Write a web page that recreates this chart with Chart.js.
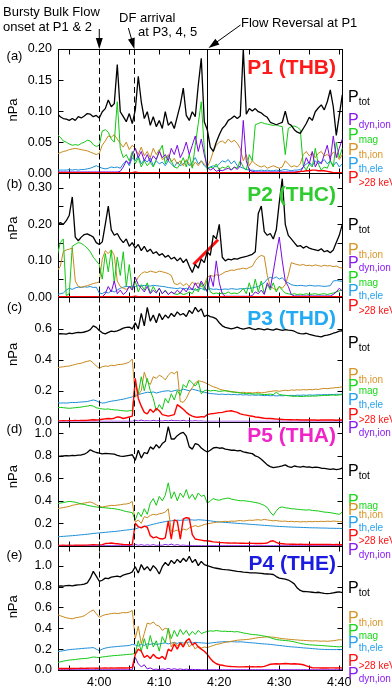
<!DOCTYPE html>
<html>
<head>
<meta charset="utf-8">
<script src="https://cdn.jsdelivr.net/npm/chart.js@4.4.1/dist/chart.umd.min.js"></script>
<style>
  html, body { margin: 0; padding: 0; background: #fff; }
  canvas { display: block; }
</style>
</head>
<body>
<canvas id="chart" width="392" height="692"></canvas>
<script>
// sample times, minutes after 04:00 UT
const t = [
  -7,-6.5,-6,-5.5,-5,-4.5,-4,-3.5,-3,-2.5,-2,-1.5,-1,-0.5,0,0.5,1,1.5,2,2.5,
  3,3.5,4,4.5,5,5.5,6,6.5,7,7.5,8,8.5,9,9.5,10,10.5,11,11.5,12,12.5,
  13,13.5,14,14.5,15,15.5,16,16.5,17,17.5,18,18.5,19,19.5,20,20.5,21,21.5,22,22.5,
  23,23.5,24,24.5,25,25.5,26,26.5,27,27.5,28,28.5,29,29.5,30,30.5,31,31.5,32,32.5,
  33,33.5,34,34.5,35,35.5,36,36.5,37,37.5,38,38.5,39,39.5,40,40.5
];

// (a) P1 (THB)
const ptotA = [
  0.096,0.091,0.088,0.087,0.085,0.088,0.085,0.091,0.089,0.092,
  0.096,0.095,0.091,0.093,0.089,0.099,0.104,0.118,0.107,0.112,
  0.175,0.099,0.091,0.083,0.096,0.080,0.102,0.156,0.115,0.088,
  0.099,0.077,0.091,0.075,0.085,0.072,0.099,0.077,0.083,0.072,
  0.091,0.110,0.137,0.093,0.085,0.099,0.091,0.142,0.185,0.083,
  0.070,0.042,0.035,0.050,0.062,0.072,0.077,0.085,0.088,0.092,
  0.088,0.092,0.200,0.095,0.104,0.100,0.104,0.099,0.097,0.093,
  0.090,0.082,0.080,0.078,0.080,0.082,0.100,0.080,0.077,0.070,
  0.066,0.064,0.072,0.080,0.090,0.085,0.099,0.105,0.110,0.102,
  0.115,0.134,0.107,0.061,0.093,0.126
];
const dynA = [
  0.002,0.002,0.002,0.002,0.002,0.002,0.002,0.002,0.002,0.002,
  0.002,0.002,0.002,0.002,0.002,0.002,0.002,0.002,0.002,0.002,
  0.002,0.003,0.010,0.020,0.015,0.030,0.040,0.025,0.035,0.020,
  0.030,0.018,0.028,0.022,0.035,0.025,0.030,0.020,0.040,0.030,
  0.045,0.025,0.035,0.050,0.030,0.045,0.060,0.035,0.055,0.030,
  0.010,0.005,0.008,0.003,0.005,0.004,0.006,0.008,0.005,0.010,
  0.006,0.012,0.085,0.020,0.005,0.003,0.002,0.002,0.002,0.002,
  0.002,0.002,0.002,0.002,0.002,0.002,0.002,0.002,0.002,0.002,
  0.002,0.002,0.010,0.025,0.015,0.035,0.010,0.020,0.015,0.030,
  0.045,0.020,0.060,0.025,0.040,0.055
];
const magA = [
  0.062,0.058,0.052,0.050,0.047,0.045,0.046,0.045,0.048,0.050,
  0.053,0.052,0.046,0.043,0.045,0.068,0.070,0.066,0.055,0.050,
  0.115,0.040,0.025,0.030,0.020,0.035,0.015,0.025,0.010,0.020,
  0.012,0.018,0.010,0.022,0.035,0.045,0.015,0.028,0.020,0.010,
  0.008,0.015,0.025,0.010,0.030,0.008,0.045,0.080,0.115,0.040,
  0.005,0.010,0.008,0.015,0.005,0.010,0.008,0.012,0.005,0.010,
  0.008,0.020,0.010,0.005,0.030,0.020,0.078,0.080,0.082,0.080,
  0.079,0.078,0.077,0.078,0.076,0.075,0.030,0.072,0.075,0.076,
  0.074,0.070,0.012,0.005,0.015,0.010,0.040,0.015,0.005,0.010,
  0.008,0.020,0.010,0.050,0.025,0.040
];
const thiA = [
  0.031,0.033,0.035,0.036,0.038,0.039,0.040,0.039,0.038,0.037,
  0.036,0.034,0.032,0.030,0.032,0.045,0.052,0.060,0.058,0.062,
  0.055,0.048,0.042,0.050,0.038,0.045,0.040,0.030,0.042,0.028,
  0.035,0.025,0.040,0.030,0.038,0.022,0.025,0.030,0.018,0.024,
  0.015,0.020,0.012,0.022,0.015,0.010,0.018,0.012,0.020,0.015,
  0.010,0.020,0.035,0.045,0.050,0.052,0.048,0.055,0.050,0.053,
  0.048,0.040,0.020,0.030,0.012,0.020,0.015,0.012,0.010,0.012,
  0.008,0.010,0.012,0.010,0.008,0.010,0.020,0.015,0.010,0.012,
  0.010,0.015,0.030,0.035,0.028,0.033,0.025,0.032,0.035,0.028,
  0.030,0.026,0.034,0.030,0.022,0.030
];
const theA = [
  0.005,0.005,0.005,0.005,0.006,0.005,0.006,0.005,0.006,0.006,
  0.007,0.008,0.010,0.012,0.010,0.008,0.007,0.008,0.010,0.009,
  0.010,0.008,0.015,0.020,0.012,0.025,0.020,0.028,0.015,0.022,
  0.018,0.025,0.012,0.020,0.015,0.018,0.012,0.020,0.015,0.010,
  0.018,0.012,0.015,0.020,0.012,0.018,0.025,0.015,0.020,0.012,
  0.008,0.010,0.012,0.010,0.015,0.020,0.018,0.022,0.015,0.020,
  0.012,0.010,0.008,0.006,0.005,0.005,0.004,0.004,0.005,0.004,
  0.005,0.004,0.004,0.005,0.004,0.005,0.006,0.005,0.004,0.005,
  0.005,0.006,0.010,0.015,0.018,0.012,0.020,0.015,0.018,0.022,
  0.015,0.020,0.012,0.018,0.010,0.015
];
const hotA = [
  0.001,0.001,0.001,0.001,0.001,0.001,0.001,0.001,0.001,0.001,
  0.001,0.001,0.001,0.001,0.001,0.001,0.001,0.001,0.001,0.001,
  0.001,0.001,0.001,0.001,0.001,0.001,0.002,0.001,0.001,0.001,
  0.001,0.001,0.001,0.001,0.001,0.001,0.001,0.001,0.001,0.001,
  0.001,0.001,0.001,0.001,0.001,0.001,0.001,0.001,0.001,0.001,
  0.001,0.001,0.001,0.001,0.001,0.001,0.001,0.001,0.001,0.001,
  0.001,0.001,0.001,0.001,0.001,0.001,0.001,0.001,0.001,0.001,
  0.001,0.001,0.001,0.001,0.001,0.001,0.001,0.001,0.001,0.001,
  0.002,0.003,0.003,0.004,0.004,0.005,0.005,0.004,0.004,0.004,
  0.003,0.002,0.001,0.001,0.001,0.001
];

// (b) P2 (THC)
const ptotB = [
  0.195,0.205,0.200,0.210,0.225,0.275,0.165,0.155,0.165,0.172,
  0.174,0.170,0.165,0.150,0.145,0.152,0.200,0.250,0.185,0.170,
  0.175,0.160,0.150,0.160,0.140,0.150,0.135,0.145,0.128,0.140,
  0.125,0.132,0.120,0.125,0.115,0.120,0.110,0.115,0.105,0.110,
  0.100,0.108,0.095,0.105,0.085,0.068,0.090,0.080,0.105,0.095,
  0.125,0.115,0.170,0.160,0.200,0.110,0.100,0.105,0.103,0.106,
  0.105,0.108,0.110,0.112,0.115,0.118,0.125,0.230,0.250,0.180,
  0.170,0.175,0.160,0.185,0.260,0.325,0.200,0.170,0.160,0.150,
  0.140,0.142,0.135,0.140,0.135,0.132,0.130,0.128,0.133,0.125,
  0.128,0.122,0.130,0.150,0.170,0.200
];
const thiB = [
  0.073,0.085,0.125,0.130,0.132,0.135,0.045,0.030,0.028,0.030,
  0.032,0.035,0.038,0.040,0.042,0.105,0.128,0.120,0.130,0.115,
  0.045,0.030,0.025,0.022,0.028,0.025,0.040,0.055,0.065,0.070,
  0.068,0.072,0.070,0.068,0.072,0.070,0.068,0.065,0.060,0.038,
  0.035,0.040,0.032,0.038,0.030,0.042,0.035,0.040,0.030,0.035,
  0.055,0.060,0.058,0.062,0.060,0.065,0.070,0.072,0.075,0.074,
  0.077,0.078,0.080,0.078,0.082,0.085,0.100,0.110,0.115,0.112,
  0.060,0.030,0.025,0.020,0.030,0.025,0.035,0.060,0.095,0.092,
  0.090,0.088,0.090,0.087,0.088,0.086,0.089,0.087,0.085,0.088,
  0.086,0.087,0.084,0.086,0.082,0.080
];
const dynB = [
  0.002,0.002,0.002,0.002,0.002,0.002,0.002,0.002,0.002,0.002,
  0.002,0.002,0.002,0.002,0.002,0.002,0.010,0.030,0.015,0.045,
  0.010,0.020,0.008,0.015,0.030,0.020,0.055,0.035,0.025,0.015,
  0.030,0.010,0.020,0.012,0.025,0.010,0.018,0.008,0.015,0.010,
  0.020,0.012,0.025,0.015,0.030,0.020,0.040,0.025,0.045,0.030,
  0.015,0.060,0.030,0.100,0.040,0.010,0.003,0.003,0.003,0.003,
  0.003,0.003,0.003,0.003,0.003,0.005,0.015,0.010,0.020,0.008,
  0.040,0.025,0.070,0.120,0.165,0.100,0.045,0.030,0.008,0.004,
  0.004,0.004,0.004,0.004,0.004,0.004,0.004,0.004,0.004,0.004,
  0.004,0.004,0.008,0.015,0.025,0.018
];
const magB = [
  0.115,0.150,0.160,0.005,0.010,0.140,0.145,0.150,0.148,0.142,
  0.135,0.125,0.110,0.100,0.090,0.050,0.120,0.070,0.130,0.040,
  0.110,0.060,0.125,0.030,0.090,0.020,0.045,0.015,0.035,0.020,
  0.040,0.012,0.030,0.015,0.025,0.010,0.020,0.008,0.015,0.010,
  0.008,0.012,0.008,0.010,0.015,0.010,0.025,0.015,0.040,0.020,
  0.050,0.015,0.010,0.012,0.010,0.012,0.010,0.015,0.010,0.012,
  0.010,0.015,0.025,0.010,0.040,0.012,0.050,0.015,0.045,0.010,
  0.035,0.020,0.040,0.015,0.030,0.020,0.012,0.010,0.008,0.010,
  0.008,0.009,0.008,0.010,0.008,0.009,0.010,0.008,0.009,0.010,
  0.008,0.010,0.012,0.015,0.018,0.020
];
const theB = [
  0.008,0.010,0.012,0.020,0.025,0.022,0.026,0.028,0.027,0.029,
  0.028,0.030,0.027,0.028,0.012,0.010,0.015,0.012,0.018,0.015,
  0.020,0.025,0.028,0.030,0.029,0.031,0.030,0.032,0.031,0.033,
  0.032,0.031,0.033,0.032,0.031,0.030,0.029,0.027,0.026,0.025,
  0.024,0.026,0.023,0.025,0.022,0.024,0.020,0.022,0.025,0.020,
  0.022,0.024,0.022,0.023,0.021,0.022,0.023,0.022,0.024,0.023,
  0.022,0.024,0.023,0.025,0.024,0.026,0.028,0.030,0.035,0.040,
  0.050,0.055,0.052,0.056,0.050,0.054,0.045,0.040,0.035,0.033,
  0.032,0.033,0.032,0.031,0.033,0.032,0.031,0.032,0.031,0.030,
  0.031,0.032,0.045,0.046,0.045,0.044
];
const hotB = [
  0.002,0.002,0.002,0.002,0.002,0.002,0.002,0.002,0.002,0.002,
  0.002,0.002,0.002,0.002,0.002,0.002,0.002,0.002,0.002,0.002,
  0.002,0.002,0.002,0.002,0.002,0.002,0.003,0.002,0.002,0.002,
  0.002,0.002,0.002,0.002,0.002,0.002,0.002,0.002,0.002,0.002,
  0.002,0.002,0.002,0.002,0.002,0.002,0.002,0.002,0.002,0.002,
  0.002,0.002,0.002,0.002,0.002,0.002,0.002,0.002,0.002,0.002,
  0.002,0.002,0.002,0.002,0.002,0.002,0.002,0.002,0.002,0.002,
  0.002,0.002,0.002,0.002,0.002,0.002,0.002,0.002,0.002,0.002,
  0.002,0.002,0.002,0.002,0.002,0.002,0.002,0.002,0.002,0.002,
  0.002,0.002,0.002,0.002,0.002,0.002
];
// hand-drawn trend segment in (b): start and end
const trendTime = [15.7, 19.8];
const trendB = [0.090, 0.158];

// (c) P3 (THD)
const ptotC = [
  0.565,0.570,0.568,0.566,0.572,0.570,0.575,0.578,0.576,0.580,
  0.585,0.595,0.620,0.610,0.590,0.575,0.568,0.578,0.585,0.582,
  0.588,0.595,0.605,0.610,0.612,0.600,0.640,0.600,0.700,0.620,
  0.740,0.650,0.690,0.640,0.700,0.660,0.690,0.670,0.700,0.680,
  0.710,0.690,0.700,0.680,0.720,0.700,0.740,0.710,0.730,0.680,
  0.690,0.680,0.675,0.665,0.640,0.620,0.610,0.605,0.600,0.605,
  0.612,0.603,0.598,0.603,0.608,0.600,0.596,0.602,0.598,0.594,
  0.600,0.596,0.592,0.600,0.595,0.590,0.596,0.592,0.590,0.585,
  0.575,0.570,0.568,0.572,0.565,0.560,0.555,0.552,0.548,0.556,
  0.560,0.565,0.572,0.578,0.585,0.588
];
const thiC = [
  0.350,0.352,0.355,0.358,0.360,0.365,0.370,0.375,0.378,0.385,
  0.390,0.395,0.380,0.360,0.345,0.355,0.360,0.358,0.365,0.362,
  0.368,0.370,0.372,0.378,0.385,0.405,0.160,0.175,0.200,0.320,
  0.260,0.240,0.290,0.280,0.300,0.290,0.270,0.300,0.320,0.310,
  0.325,0.130,0.125,0.150,0.190,0.220,0.250,0.265,0.260,0.255,
  0.245,0.235,0.225,0.220,0.210,0.205,0.200,0.198,0.195,0.192,
  0.190,0.188,0.190,0.186,0.188,0.185,0.187,0.190,0.186,0.188,
  0.192,0.195,0.198,0.200,0.196,0.200,0.203,0.200,0.205,0.203,
  0.206,0.204,0.207,0.205,0.208,0.206,0.210,0.208,0.212,0.215,
  0.213,0.216,0.218,0.220,0.222,0.225
];
const magC = [
  0.090,0.092,0.090,0.088,0.086,0.088,0.090,0.092,0.094,0.098,
  0.100,0.105,0.100,0.090,0.085,0.082,0.080,0.082,0.078,0.076,
  0.075,0.072,0.070,0.068,0.070,0.072,0.250,0.180,0.290,0.200,
  0.280,0.200,0.150,0.070,0.110,0.080,0.150,0.120,0.180,0.140,
  0.200,0.170,0.240,0.220,0.270,0.250,0.230,0.260,0.180,0.200,
  0.205,0.198,0.202,0.200,0.195,0.198,0.200,0.196,0.192,0.190,
  0.188,0.185,0.183,0.180,0.182,0.180,0.178,0.180,0.177,0.175,
  0.176,0.178,0.175,0.190,0.176,0.172,0.170,0.168,0.165,0.163,
  0.165,0.162,0.163,0.165,0.164,0.166,0.165,0.167,0.168,0.170,
  0.169,0.171,0.172,0.170,0.173,0.175
];
const theC = [
  0.122,0.120,0.121,0.120,0.122,0.124,0.123,0.125,0.127,0.128,
  0.130,0.135,0.140,0.135,0.125,0.120,0.122,0.128,0.132,0.135,
  0.138,0.142,0.145,0.150,0.155,0.160,0.170,0.175,0.180,0.185,
  0.190,0.188,0.192,0.185,0.190,0.195,0.198,0.200,0.195,0.200,
  0.205,0.200,0.210,0.205,0.200,0.210,0.205,0.200,0.195,0.190,
  0.185,0.182,0.180,0.178,0.176,0.178,0.175,0.177,0.174,0.176,
  0.173,0.175,0.172,0.174,0.171,0.173,0.170,0.172,0.170,0.168,
  0.170,0.167,0.169,0.166,0.168,0.167,0.169,0.168,0.170,0.168,
  0.171,0.170,0.172,0.170,0.173,0.171,0.172,0.174,0.173,0.175,
  0.174,0.176,0.175,0.177,0.176,0.178
];
const hotC = [
  0.005,0.005,0.006,0.005,0.006,0.006,0.007,0.006,0.008,0.007,
  0.008,0.010,0.012,0.010,0.012,0.015,0.018,0.020,0.018,0.022,
  0.030,0.028,0.020,0.025,0.030,0.035,0.280,0.150,0.100,0.060,
  0.050,0.080,0.060,0.085,0.070,0.045,0.040,0.035,0.040,0.045,
  0.110,0.095,0.080,0.060,0.045,0.035,0.030,0.028,0.032,0.030,
  0.045,0.050,0.052,0.055,0.058,0.060,0.065,0.068,0.070,0.065,
  0.060,0.050,0.045,0.042,0.038,0.035,0.030,0.028,0.025,0.022,
  0.020,0.020,0.018,0.016,0.015,0.014,0.013,0.012,0.012,0.011,
  0.012,0.010,0.011,0.010,0.010,0.011,0.010,0.009,0.010,0.010,
  0.011,0.010,0.010,0.009,0.010,0.010
];
const dynC = [
  0.002,0.002,0.002,0.002,0.002,0.002,0.002,0.002,0.002,0.002,
  0.002,0.002,0.002,0.002,0.002,0.002,0.002,0.002,0.002,0.002,
  0.002,0.002,0.002,0.002,0.002,0.002,0.008,0.003,0.010,0.004,
  0.006,0.003,0.008,0.004,0.006,0.003,0.007,0.004,0.009,0.005,
  0.006,0.004,0.008,0.003,0.005,0.003,0.006,0.003,0.004,0.002,
  0.002,0.002,0.002,0.002,0.002,0.002,0.002,0.002,0.002,0.002,
  0.002,0.002,0.002,0.002,0.002,0.002,0.002,0.002,0.002,0.002,
  0.002,0.002,0.002,0.002,0.002,0.002,0.002,0.002,0.002,0.002,
  0.002,0.002,0.002,0.002,0.002,0.002,0.002,0.002,0.002,0.002,
  0.002,0.002,0.002,0.002,0.002,0.002
];

// (d) P5 (THA)
const ptotD = [
  0.795,0.798,0.800,0.802,0.800,0.805,0.802,0.806,0.808,0.815,
  0.830,0.855,0.840,0.830,0.825,0.818,0.822,0.820,0.818,0.815,
  0.805,0.798,0.795,0.800,0.805,0.810,0.760,0.850,0.780,0.830,
  0.820,0.880,0.860,0.900,0.870,0.910,0.930,1.060,0.950,0.950,
  0.980,1.000,1.010,0.975,0.880,0.860,0.910,0.900,0.870,0.850,
  0.835,0.850,0.870,0.875,0.868,0.872,0.860,0.855,0.850,0.852,
  0.845,0.848,0.835,0.830,0.825,0.820,0.800,0.790,0.770,0.745,
  0.720,0.705,0.695,0.700,0.705,0.712,0.720,0.705,0.698,0.710,
  0.704,0.700,0.706,0.700,0.702,0.695,0.700,0.698,0.690,0.688,
  0.685,0.680,0.684,0.678,0.682,0.690
];
const magD = [
  0.375,0.380,0.385,0.390,0.395,0.392,0.388,0.380,0.372,0.368,
  0.360,0.355,0.350,0.345,0.342,0.340,0.338,0.335,0.332,0.330,
  0.325,0.320,0.312,0.305,0.300,0.295,0.230,0.300,0.260,0.330,
  0.280,0.380,0.420,0.360,0.440,0.400,0.450,0.560,0.420,0.480,
  0.400,0.470,0.430,0.500,0.420,0.460,0.410,0.470,0.440,0.450,
  0.380,0.400,0.420,0.410,0.405,0.415,0.420,0.425,0.415,0.410,
  0.405,0.400,0.402,0.398,0.395,0.390,0.385,0.380,0.370,0.360,
  0.340,0.300,0.270,0.310,0.340,0.345,0.338,0.335,0.330,0.328,
  0.325,0.322,0.320,0.318,0.320,0.315,0.312,0.310,0.305,0.300,
  0.298,0.295,0.290,0.285,0.280,0.300
];
const thiD = [
  0.330,0.335,0.340,0.345,0.350,0.360,0.365,0.370,0.375,0.380,
  0.385,0.390,0.380,0.365,0.350,0.345,0.350,0.355,0.360,0.358,
  0.362,0.365,0.370,0.372,0.378,0.395,0.210,0.230,0.200,0.260,
  0.250,0.270,0.280,0.275,0.285,0.290,0.300,0.330,0.130,0.130,
  0.140,0.120,0.150,0.140,0.160,0.170,0.180,0.170,0.180,0.190,
  0.195,0.200,0.205,0.210,0.212,0.215,0.218,0.215,0.220,0.218,
  0.222,0.225,0.220,0.224,0.228,0.226,0.230,0.232,0.228,0.235,
  0.230,0.226,0.222,0.225,0.220,0.218,0.220,0.215,0.218,0.214,
  0.216,0.212,0.215,0.213,0.216,0.214,0.217,0.215,0.218,0.216,
  0.219,0.217,0.220,0.218,0.216,0.214
];
const theD = [
  0.080,0.082,0.084,0.086,0.088,0.090,0.092,0.095,0.098,0.100,
  0.103,0.106,0.110,0.112,0.115,0.117,0.120,0.122,0.125,0.127,
  0.130,0.133,0.137,0.140,0.143,0.147,0.150,0.160,0.165,0.172,
  0.178,0.185,0.192,0.198,0.205,0.210,0.215,0.220,0.222,0.225,
  0.228,0.226,0.230,0.228,0.232,0.230,0.228,0.232,0.230,0.228,
  0.225,0.222,0.218,0.215,0.212,0.210,0.208,0.206,0.204,0.202,
  0.200,0.198,0.196,0.194,0.192,0.190,0.188,0.186,0.184,0.182,
  0.180,0.178,0.176,0.174,0.172,0.171,0.170,0.168,0.167,0.166,
  0.165,0.164,0.163,0.162,0.161,0.160,0.160,0.159,0.158,0.158,
  0.157,0.156,0.156,0.155,0.155,0.154
];
const hotD = [
  0.004,0.004,0.005,0.004,0.005,0.004,0.005,0.005,0.006,0.005,
  0.006,0.008,0.010,0.008,0.008,0.010,0.020,0.022,0.025,0.020,
  0.018,0.015,0.012,0.010,0.010,0.012,0.200,0.170,0.160,0.175,
  0.165,0.090,0.070,0.080,0.065,0.060,0.070,0.220,0.060,0.230,
  0.220,0.060,0.240,0.250,0.245,0.100,0.060,0.055,0.050,0.045,
  0.045,0.040,0.035,0.033,0.030,0.028,0.026,0.025,0.024,0.025,
  0.024,0.023,0.024,0.022,0.023,0.022,0.021,0.022,0.020,0.022,
  0.025,0.040,0.045,0.030,0.020,0.018,0.016,0.015,0.014,0.015,
  0.013,0.014,0.013,0.012,0.013,0.012,0.012,0.011,0.012,0.011,
  0.012,0.011,0.010,0.011,0.010,0.010
];
const dynD = [
  0.002,0.002,0.002,0.002,0.002,0.002,0.002,0.002,0.002,0.002,
  0.002,0.002,0.002,0.002,0.002,0.002,0.002,0.002,0.002,0.002,
  0.002,0.002,0.002,0.002,0.002,0.002,0.012,0.004,0.010,0.003,
  0.008,0.004,0.010,0.003,0.006,0.004,0.012,0.005,0.015,0.004,
  0.010,0.003,0.006,0.003,0.004,0.002,0.002,0.002,0.002,0.002,
  0.002,0.002,0.002,0.002,0.002,0.002,0.002,0.002,0.002,0.002,
  0.002,0.002,0.002,0.002,0.002,0.002,0.002,0.002,0.002,0.002,
  0.002,0.002,0.002,0.002,0.002,0.002,0.002,0.002,0.002,0.002,
  0.002,0.002,0.002,0.002,0.002,0.002,0.002,0.002,0.002,0.002,
  0.002,0.002,0.002,0.002,0.002,0.002
];

// (e) P4 (THE)
const ptotE = [
  0.800,0.805,0.803,0.808,0.810,0.806,0.812,0.815,0.818,0.822,
  0.835,0.880,0.945,0.900,0.850,0.860,0.880,0.875,0.890,0.895,
  0.900,0.892,0.910,0.918,0.925,0.940,0.990,0.930,1.010,0.960,
  0.990,0.950,1.000,0.970,0.920,0.990,1.030,1.000,1.050,1.020,
  1.060,1.030,1.070,1.040,1.090,1.030,1.060,1.000,1.040,1.010,
  1.000,0.990,0.980,0.975,0.970,0.965,0.962,0.960,0.955,0.950,
  0.945,0.942,0.938,0.935,0.932,0.930,0.930,0.928,0.925,0.922,
  0.920,0.918,0.915,0.895,0.880,0.875,0.870,0.862,0.845,0.825,
  0.785,0.762,0.752,0.750,0.748,0.745,0.742,0.745,0.740,0.735,
  0.732,0.735,0.740,0.745,0.748,0.742
];
const thiE = [
  0.530,0.520,0.510,0.500,0.495,0.490,0.500,0.505,0.510,0.520,
  0.540,0.560,0.575,0.540,0.505,0.520,0.530,0.535,0.540,0.545,
  0.540,0.545,0.550,0.548,0.555,0.570,0.300,0.420,0.250,0.350,
  0.450,0.440,0.460,0.430,0.420,0.380,0.400,0.390,0.220,0.270,
  0.230,0.260,0.240,0.280,0.220,0.250,0.200,0.230,0.210,0.220,
  0.215,0.225,0.235,0.245,0.250,0.258,0.265,0.270,0.275,0.280,
  0.285,0.288,0.290,0.292,0.295,0.300,0.305,0.310,0.312,0.315,
  0.318,0.316,0.314,0.310,0.305,0.300,0.298,0.295,0.292,0.290,
  0.288,0.285,0.284,0.282,0.280,0.278,0.280,0.278,0.276,0.278,
  0.275,0.278,0.280,0.285,0.290,0.288
];
const magE = [
  0.070,0.078,0.085,0.090,0.095,0.098,0.100,0.105,0.108,0.110,
  0.112,0.118,0.125,0.122,0.118,0.125,0.128,0.132,0.135,0.138,
  0.140,0.142,0.145,0.148,0.150,0.152,0.160,0.280,0.180,0.300,
  0.200,0.330,0.220,0.280,0.180,0.320,0.260,0.400,0.300,0.380,
  0.320,0.390,0.340,0.380,0.330,0.370,0.340,0.380,0.350,0.360,
  0.370,0.375,0.372,0.378,0.374,0.370,0.372,0.368,0.370,0.365,
  0.368,0.362,0.355,0.350,0.345,0.340,0.338,0.335,0.330,0.325,
  0.320,0.310,0.300,0.292,0.288,0.285,0.282,0.280,0.275,0.270,
  0.262,0.255,0.250,0.245,0.242,0.240,0.238,0.236,0.235,0.232,
  0.230,0.228,0.226,0.224,0.222,0.225
];
const theE = [
  0.175,0.180,0.185,0.190,0.195,0.198,0.200,0.203,0.205,0.208,
  0.210,0.212,0.215,0.200,0.185,0.200,0.210,0.215,0.220,0.222,
  0.225,0.228,0.230,0.232,0.235,0.245,0.240,0.230,0.245,0.235,
  0.250,0.245,0.255,0.245,0.250,0.255,0.260,0.250,0.258,0.262,
  0.255,0.265,0.258,0.262,0.268,0.260,0.265,0.262,0.260,0.258,
  0.255,0.258,0.262,0.265,0.268,0.270,0.272,0.270,0.272,0.270,
  0.268,0.270,0.268,0.265,0.262,0.260,0.258,0.255,0.252,0.250,
  0.248,0.245,0.242,0.238,0.235,0.232,0.228,0.225,0.222,0.220,
  0.218,0.215,0.212,0.210,0.208,0.205,0.203,0.200,0.198,0.197,
  0.196,0.196,0.195,0.196,0.195,0.196
];
const hotE = [
  0.015,0.015,0.016,0.015,0.016,0.015,0.016,0.016,0.017,0.016,
  0.017,0.018,0.018,0.017,0.018,0.018,0.019,0.018,0.019,0.018,
  0.019,0.019,0.020,0.019,0.020,0.025,0.150,0.200,0.180,0.120,
  0.140,0.110,0.150,0.120,0.110,0.130,0.100,0.200,0.180,0.250,
  0.200,0.260,0.220,0.280,0.300,0.240,0.260,0.220,0.200,0.180,
  0.150,0.110,0.080,0.060,0.050,0.045,0.040,0.035,0.033,0.032,
  0.030,0.030,0.030,0.031,0.030,0.032,0.030,0.031,0.030,0.035,
  0.045,0.055,0.058,0.060,0.058,0.060,0.062,0.060,0.058,0.060,
  0.058,0.055,0.050,0.040,0.030,0.022,0.020,0.020,0.019,0.020,
  0.019,0.020,0.020,0.019,0.020,0.020
];
const dynE = [
  0.002,0.002,0.002,0.002,0.002,0.002,0.002,0.002,0.002,0.002,
  0.002,0.002,0.002,0.002,0.002,0.002,0.002,0.002,0.002,0.002,
  0.002,0.002,0.002,0.002,0.002,0.002,0.120,0.060,0.030,0.050,
  0.010,0.020,0.005,0.008,0.004,0.010,0.005,0.015,0.005,0.012,
  0.005,0.010,0.004,0.008,0.004,0.006,0.003,0.005,0.002,0.002,
  0.002,0.002,0.002,0.002,0.002,0.002,0.002,0.002,0.002,0.002,
  0.002,0.002,0.002,0.002,0.002,0.002,0.002,0.002,0.002,0.002,
  0.002,0.002,0.002,0.002,0.002,0.002,0.002,0.002,0.002,0.002,
  0.002,0.002,0.002,0.002,0.002,0.002,0.002,0.002,0.002,0.002,
  0.002,0.002,0.002,0.002,0.002,0.002
];

// axes
const timeLabelTicks = [0, 10, 20, 30, 40];
const timeMinorTicks = [-5, 0, 5, 10, 15, 20, 25, 30, 35, 40];
const bbfOnset = 0;
const dfArrival = 5.85;
const flowReversal = 17.9;

const FONT = '"Liberation Sans", Arial, sans-serif';
const colors = { tot: '#000000', dyn: '#7a0ae0', mag: '#12c812', thi: '#c8881c', the: '#1c8ed8', hot: '#ff0000' };
const labelColors = { tot: '#000000', dyn: '#8a1cf0', mag: '#1ad81a', thi: '#d8962a', the: '#28a2ee', hot: '#ff1010' };
const subText = { tot: 'tot', dyn: 'dyn,ion', mag: 'mag', thi: 'th,ion', the: 'th,ele', hot: '>28 keV' };

const panels = [
  { axis: 'ya', letter: '(a)', title: 'P1 (THB)', titleColor: '#ff1a1a', max: 0.2, dec: 2,
    ticks: [0, 0.05, 0.1, 0.15, 0.2], minor: [0.05, 0.1, 0.15],
    series: { tot: ptotA, hot: hotA, dyn: dynA, mag: magA, thi: thiA, the: theA },
    legend: [['tot', 47], ['dyn', 70], ['mag', 85], ['thi', 100], ['the', 114], ['hot', 128]],
    titleDy: 19, letterDy: 7.5, unitDy: 61 },
  { axis: 'yb', letter: '(b)', title: 'P2 (THC)', titleColor: '#2ecc2e', max: 0.34, dec: 2,
    ticks: [0, 0.1, 0.2, 0.3], minor: [0.05, 0.1, 0.15, 0.2, 0.25, 0.3],
    series: { tot: ptotB, hot: hotB, dyn: dynB, mag: magB, thi: thiB, the: theB },
    legend: [['tot', 51], ['thi', 76], ['dyn', 89], ['mag', 104], ['the', 117], ['hot', 132]],
    titleDy: 22, letterDy: 11, unitDy: 55 },
  { axis: 'yc', letter: '(c)', title: 'P3 (THD)', titleColor: '#22aaf2', max: 0.804, dec: 1,
    ticks: [0, 0.2, 0.4, 0.6], minor: [0.2, 0.4, 0.6],
    series: { tot: ptotC, hot: hotC, dyn: dynC, mag: magC, thi: thiC, the: theC },
    legend: [['tot', 45], ['thi', 77], ['mag', 88], ['the', 102], ['hot', 117], ['dyn', 130]],
    titleDy: 22, letterDy: 10.5, unitDy: 57 },
  { axis: 'yd', letter: '(d)', title: 'P5 (THA)', titleColor: '#f022c8', max: 1.105, dec: 1,
    ticks: [0, 0.2, 0.4, 0.6, 0.8, 1.0], minor: [0.2, 0.4, 0.6, 0.8, 1.0],
    series: { tot: ptotD, hot: hotD, dyn: dynD, mag: magD, thi: thiD, the: theD },
    legend: [['tot', 48], ['mag', 78], ['thi', 87], ['the', 100], ['hot', 113], ['dyn', 127]],
    titleDy: 15, letterDy: 7.5, unitDy: 55 },
  { axis: 'ye', letter: '(e)', title: 'P4 (THE)', titleColor: '#1c1ce0', max: 1.19, dec: 1,
    ticks: [0, 0.2, 0.4, 0.6, 0.8, 1.0], minor: [0.2, 0.4, 0.6, 0.8, 1.0],
    series: { tot: ptotE, hot: hotE, dyn: dynE, mag: magE, thi: thiE, the: theE },
    legend: [['tot', 41], ['thi', 71], ['mag', 84], ['the', 96], ['hot', 114], ['dyn', 127]],
    titleDy: 18, letterDy: 10, unitDy: 61 }
];

Chart.defaults.font.family = FONT;
Chart.defaults.color = '#000';

const datasets = [];
panels.forEach(p => {
  ['tot', 'hot', 'dyn', 'mag', 'thi', 'the'].forEach(key => {
    datasets.push({
      label: p.title + ' ' + key,
      data: t.map((x, i) => ({ x: x, y: p.series[key][i] })),
      yAxisID: p.axis,
      borderColor: colors[key],
      borderWidth: key === 'tot' ? 1.3 : (key === 'hot' ? 1.4 : 1),
      pointRadius: 0,
      tension: 0
    });
  });
});
datasets.push({
  label: 'trend',
  data: trendTime.map((x, i) => ({ x: x, y: trendB[i] })),
  yAxisID: 'yb',
  borderColor: '#ff1010',
  borderWidth: 3,
  pointRadius: 0
});

const scales = {
  x: {
    type: 'linear',
    position: 'bottom',
    min: -6.88,
    max: 40.62,
    afterFit: s => { s.height = 22; },
    afterBuildTicks: s => { s.ticks = timeLabelTicks.map(v => ({ value: v })); },
    grid: { display: false, drawTicks: false },
    border: { display: false },
    ticks: {
      padding: 5, autoSkip: false, maxRotation: 0,
      font: { size: 12.5 }, color: '#000',
      callback: v => '4:' + String(v).padStart(2, '0')
    }
  }
};
panels.forEach((p, i) => {
  scales[p.axis] = {
    type: 'linear',
    position: 'left',
    stack: 'panels',
    stackWeight: 1,
    weight: 5 - i,
    min: 0,
    max: p.max,
    afterFit: s => { s.width = 58; },
    afterBuildTicks: s => { s.ticks = p.ticks.map(v => ({ value: v })); },
    grid: { display: false, drawTicks: false },
    border: { display: false },
    ticks: {
      padding: 6, autoSkip: false,
      font: { size: 12.5 }, color: '#000',
      callback: v => v.toFixed(p.dec)
    }
  };
});

function arrow(ctx, x1, y1, x2, y2) {
  const ang = Math.atan2(y2 - y1, x2 - x1);
  const len = 11, half = 3.5;
  ctx.beginPath();
  ctx.moveTo(x1, y1);
  ctx.lineTo(x2 - 4 * Math.cos(ang), y2 - 4 * Math.sin(ang));
  ctx.stroke();
  ctx.beginPath();
  ctx.moveTo(x2, y2);
  ctx.lineTo(x2 - len * Math.cos(ang) + half * Math.sin(ang), y2 - len * Math.sin(ang) - half * Math.cos(ang));
  ctx.lineTo(x2 - len * Math.cos(ang) - half * Math.sin(ang), y2 - len * Math.sin(ang) + half * Math.cos(ang));
  ctx.closePath();
  ctx.fill();
}

const frames = {
  id: 'frames',
  beforeDatasetsDraw(chart) {
    const ctx = chart.ctx;
    const xs = chart.scales.x;
    const area = chart.chartArea;
    ctx.save();
    ctx.strokeStyle = '#000';
    ctx.lineWidth = 1;
    panels.forEach(p => {
      const ys = chart.scales[p.axis];
      const top = Math.round(ys.top) + 0.5;
      const bottom = Math.round(ys.bottom) + 0.5;
      const left = Math.round(area.left) + 0.5;
      const right = Math.round(area.right) - 0.5;
      ctx.strokeRect(left, top, right - left, bottom - top);
      ctx.beginPath();
      timeMinorTicks.forEach(v => {
        const x = Math.round(xs.getPixelForValue(v)) + 0.5;
        ctx.moveTo(x, top); ctx.lineTo(x, top + 5);
        ctx.moveTo(x, bottom); ctx.lineTo(x, bottom - 5);
      });
      p.minor.forEach(v => {
        const y = Math.round(ys.getPixelForValue(v)) + 0.5;
        ctx.moveTo(left, y); ctx.lineTo(left + 5, y);
        ctx.moveTo(right, y); ctx.lineTo(right - 5, y);
      });
      ctx.stroke();
    });
    ctx.restore();
  },
  afterDatasetsDraw(chart) {
    const ctx = chart.ctx;
    const xs = chart.scales.x;
    const area = chart.chartArea;
    ctx.save();
    ctx.strokeStyle = '#000';
    ctx.fillStyle = '#000';
    ctx.lineWidth = 1;

    // event lines
    ctx.setLineDash([6, 3.5]);
    [bbfOnset, dfArrival].forEach(v => {
      const x = Math.round(xs.getPixelForValue(v)) + 0.5;
      ctx.beginPath(); ctx.moveTo(x, area.top); ctx.lineTo(x, area.bottom); ctx.stroke();
    });
    ctx.setLineDash([]);
    const xr = Math.round(xs.getPixelForValue(flowReversal)) + 0.5;
    ctx.beginPath(); ctx.moveTo(xr, area.top); ctx.lineTo(xr, area.bottom); ctx.stroke();

    // annotations above the top panel
    const xa = xs.getPixelForValue(bbfOnset);
    const xd = xs.getPixelForValue(dfArrival);
    arrow(ctx, xa, 29, xa, area.top);
    arrow(ctx, xd - 6, 28, xd, area.top);
    arrow(ctx, xr + 33, 25, xr + 1, area.top - 1);
    ctx.font = '13px ' + FONT;
    ctx.textAlign = 'left';
    ctx.textBaseline = 'middle';
    ctx.fillText('Bursty Bulk Flow', 3, 12);
    ctx.fillText('onset at P1 & 2', 3, 27);
    ctx.fillText('DF arrival', 119, 18);
    ctx.fillText('at P3, 4, 5', 138, 32);
    ctx.fillText('Flow Reversal at P1', 241, 23);

    panels.forEach(p => {
      const ys = chart.scales[p.axis];
      const top = ys.top;
      // panel letter
      ctx.fillStyle = '#000';
      ctx.font = '13px ' + FONT;
      ctx.textAlign = 'center';
      ctx.textBaseline = 'middle';
      ctx.fillText(p.letter, 14.5, top + p.letterDy);
      // unit
      ctx.save();
      ctx.translate(13, top + p.unitDy);
      ctx.rotate(-Math.PI / 2);
      ctx.fillText('nPa', 0, 0);
      ctx.restore();
      // spacecraft title
      ctx.fillStyle = p.titleColor;
      ctx.font = 'bold 21px ' + FONT;
      ctx.textAlign = 'right';
      ctx.fillText(p.title, 336, top + p.titleDy);
      // right-hand labels
      ctx.textAlign = 'left';
      ctx.textBaseline = 'alphabetic';
      p.legend.forEach(([key, dy]) => {
        const y = top + dy;
        ctx.fillStyle = labelColors[key];
        ctx.font = '16px ' + FONT;
        ctx.fillText('P', area.right + 5, y + 6);
        const w = ctx.measureText('P').width;
        ctx.font = '10px ' + FONT;
        ctx.fillText(subText[key], area.right + 5 + w, y + 9);
      });
    });
    ctx.restore();
  }
};

new Chart(document.getElementById('chart'), {
  type: 'line',
  data: { datasets: datasets },
  options: {
    responsive: false,
    animation: false,
    devicePixelRatio: 1,
    events: [],
    layout: { padding: { top: 49, right: 49, bottom: 0, left: 0 } },
    elements: { line: { borderJoinStyle: 'bevel' } },
    plugins: { legend: { display: false }, tooltip: { enabled: false } },
    scales: scales
  },
  plugins: [frames]
});
</script>
</body>
</html>
